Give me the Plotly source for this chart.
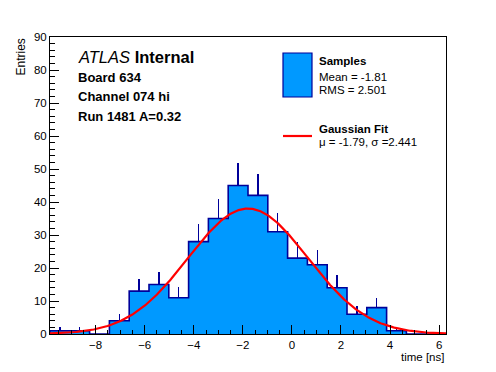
import numpy as np
import plotly.graph_objects as go

# ---- data ----
x_min = -9.86
x_max = 6.28
counts = [1, 1, 0, 4, 13, 15, 11, 28, 35, 45, 42, 31, 23, 21, 14, 6, 8, 1, 0, 0]
sample_mean = -1.81
sample_rms = 2.501
fit_mu = -1.79
fit_sigma = 2.441
fit_amp = 38.0
x_ticks = [-8, -6, -4, -2, 0, 2, 4, 6]
y_ticks = [0, 10, 20, 30, 40, 50, 60, 70, 80, 90]
info_lines = ["Board 634", "Channel 074 hi", "Run 1481 A=0.32"]

FILL = "#0099FF"
EDGE = "#000099"
FONT = "Liberation Sans, Arial, Helvetica, sans-serif"

n_bins = len(counts)
edges = np.linspace(x_min, x_max, n_bins + 1)
bw = edges[1] - edges[0]
centers = 0.5 * (edges[:-1] + edges[1:])
cnt = np.array(counts, dtype=float)
err = np.sqrt(cnt)

# step outline
sx = [edges[0]]
sy = [0.0]
for i in range(n_bins):
    sx += [edges[i], edges[i + 1]]
    sy += [cnt[i], cnt[i]]
sx.append(edges[-1])
sy.append(0.0)

# gaussian fit curve
gx = np.linspace(x_min, x_max, 400)
gy = fit_amp * np.exp(-0.5 * ((gx - fit_mu) / fit_sigma) ** 2)

fig = go.Figure()
fig.add_trace(go.Bar(
    x=centers, y=cnt, width=bw, marker=dict(color=FILL, line=dict(width=0)),
    error_y=dict(type="data", symmetric=False, array=err, arrayminus=np.zeros_like(err),
                 width=0, thickness=1.3, color=EDGE),
    showlegend=False, hoverinfo="skip"))
fig.add_trace(go.Scatter(x=sx, y=sy, mode="lines", line=dict(color=EDGE, width=1.6),
                         showlegend=False, hoverinfo="skip"))
fig.add_trace(go.Scatter(x=gx, y=gy, mode="lines", line=dict(color="#FF0000", width=2.2),
                         showlegend=False, hoverinfo="skip"))

# target pixel geometry (in the 496x372 window); page body has an 8px margin
OFF = 8
L, R, T, B = 50, 446, 37, 334
W, H = 496, 372


def px(xp):
    return (xp - L) / (R - L)


def py(yp):
    return (B - yp) / (B - T)


ann = []
ann.append(dict(text="<i>ATLAS</i> <b>Internal</b>", x=px(76), y=py(57), xref="paper", yref="paper",
                xanchor="left", yanchor="middle", showarrow=False, font=dict(size=16.5, color="black", family=FONT)))
for k, t in enumerate(info_lines):
    ann.append(dict(text="<b>%s</b>" % t, x=px(76), y=py(77 + 19.7 * k), xref="paper", yref="paper",
                    xanchor="left", yanchor="middle", showarrow=False, font=dict(size=13, color="black", family=FONT)))

leg = [("<b>Samples</b>", 61), ("Mean = %.2f" % sample_mean, 76.5), ("RMS = %.3f" % sample_rms, 90),
       ("<b>Gaussian Fit</b>", 129), ("\u03bc = %.2f, \u03c3 =%.3f" % (fit_mu, fit_sigma), 142)]
for t, yy in leg:
    ann.append(dict(text=t, x=px(317), y=py(yy), xref="paper", yref="paper", xanchor="left",
                    yanchor="middle", showarrow=False, font=dict(size=11.5, color="black", family=FONT)))

ann.append(dict(text="Entries", x=px(20), y=py(37), xref="paper", yref="paper", xanchor="center",
                yanchor="top", textangle=-90, showarrow=False, font=dict(size=12, color="black", family=FONT)))
ann.append(dict(text="time [ns]", x=px(446), y=py(356.5), xref="paper", yref="paper", xanchor="right",
                yanchor="middle", showarrow=False, font=dict(size=11.5, color="black", family=FONT)))

shapes = [
    dict(type="rect", xref="paper", yref="paper", x0=px(283), x1=px(312), y0=py(97), y1=py(53),
         fillcolor=FILL, line=dict(color=EDGE, width=1.2)),
    dict(type="line", xref="paper", yref="paper", x0=px(283), x1=px(312), y0=py(136), y1=py(136),
         line=dict(color="#FF0000", width=2.2)),
]

fig.update_layout(
    width=W - OFF, height=H - OFF,
    margin=dict(l=L - OFF, r=W - R, t=T - OFF, b=H - B, pad=0),
    paper_bgcolor="white", plot_bgcolor="white",
    font=dict(family=FONT, size=11, color="black"),
    annotations=ann, shapes=shapes, bargap=0, showlegend=False,
)
fig.update_xaxes(range=[x_min, x_max], tickvals=x_ticks, ticks="inside", ticklen=9, tickcolor="black",
                 showline=True, linecolor="black", linewidth=1, mirror=True, showgrid=False, zeroline=False,
                 minor=dict(dtick=0.5, tick0=0, ticks="inside", ticklen=4, tickcolor="black", showgrid=False),
                 tickfont=dict(size=11.5, family=FONT))
fig.update_yaxes(range=[0, 90], tickvals=y_ticks, ticks="inside", ticklen=9, tickcolor="black",
                 showline=True, linecolor="black", linewidth=1, mirror=True, showgrid=False, zeroline=False,
                 minor=dict(dtick=2, tick0=0, ticks="inside", ticklen=4.5, tickcolor="black", showgrid=False),
                 tickfont=dict(size=11.5, family=FONT))

fig.write_html("out.html")
